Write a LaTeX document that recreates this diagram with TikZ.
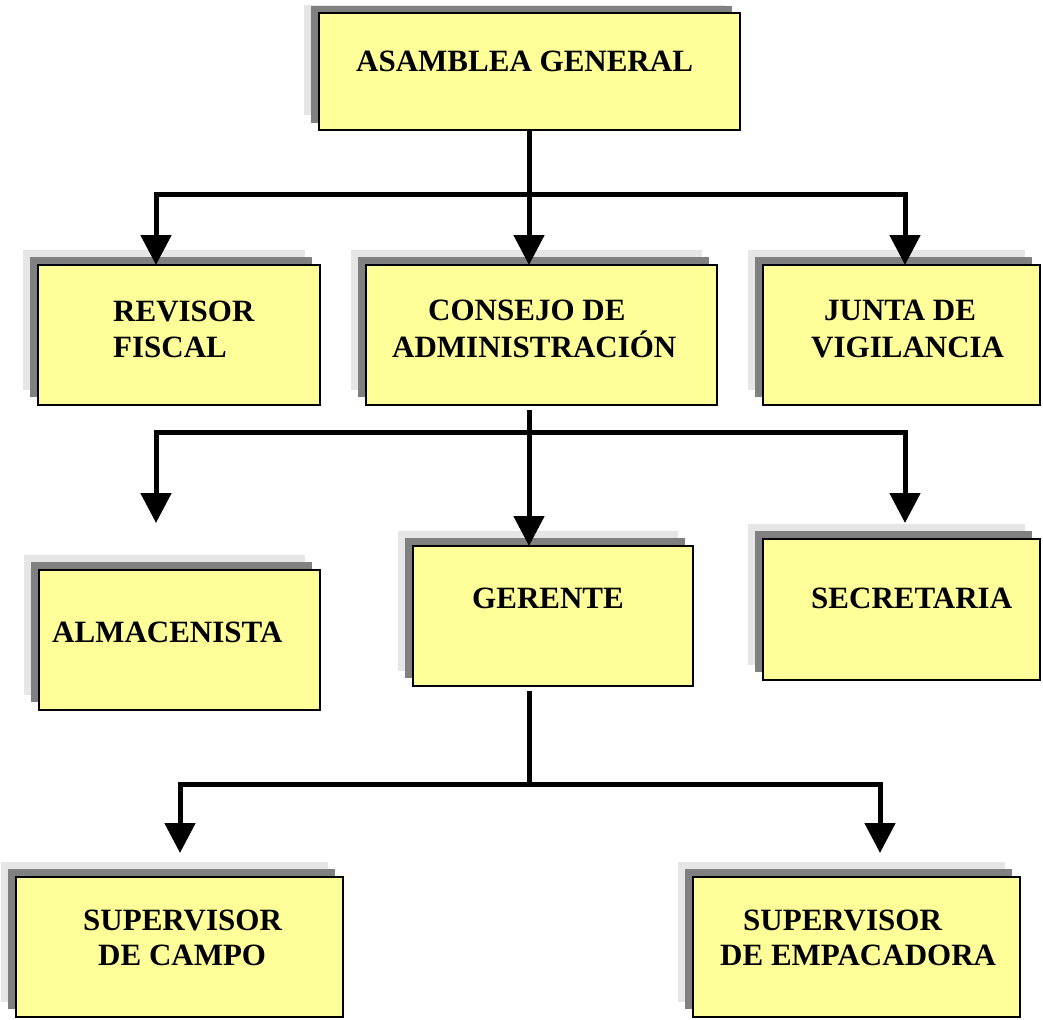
\documentclass[tikz,border=0pt]{standalone}
\usepackage{fontspec}
\setmainfont{Liberation Serif}
\usetikzlibrary{arrows.meta}
\definecolor{boxyellow}{HTML}{FFFF99}
\definecolor{shdark}{HTML}{808080}
\definecolor{shlight}{HTML}{E6E6E6}
\newcommand\orgbox[5]{%
  \fill[shlight] (#2-15,#3-15) rectangle (#4-15,#5-15);
  \fill[shdark] (#2-8,#3-8) rectangle (#4-8,#5-8);
  \node[obox, minimum width={#4-#2}, minimum height={#5-#3}] (#1) at ({(#2+#4)/2},{(#3+#5)/2}) {};
}
\begin{document}
\begin{tikzpicture}[x=1pt,y=-1pt,
  obox/.style={draw=black, line width=1.8pt, fill=boxyellow, inner sep=0pt, outer sep=0pt},
  lbl/.style={anchor=base west, inner sep=0pt, font=\bfseries\fontsize{31}{36}\selectfont},
  conn/.style={line width=5pt, line join=miter},
  arr/.style={conn, -{Triangle[length=30pt 0 0, width=30pt 0 0]}}]
\useasboundingbox (0,0) rectangle (1043,1019);
\fill[white] (0,0) rectangle (1043,1019);

% ASAMBLEA (shadows clipped by top)
\fill[shlight] (304,5) rectangle (725,115);
\fill[shdark] (311,6) rectangle (732,123);
\node[obox, minimum width=421, minimum height=117] (asamblea) at (529.5,71.5) {};
\node[lbl] (t-asam) at (356,72) {ASAMBLEA GENERAL};

\orgbox{revisor}{38}{265}{320}{405}
\node[lbl] (t-rev1) at (113,321) {REVISOR};
\node[lbl] (t-rev2) at (113,357) {FISCAL};

\orgbox{consejo}{366}{265}{717}{405}
\node[lbl] (t-con1) at (428,320) {CONSEJO DE};
\node[lbl] (t-con2) at (392,357) {ADMINISTRACIÓN};

\orgbox{junta}{763}{265}{1040}{405}
\node[lbl] (t-jun1) at (824,320) {JUNTA DE};
\node[lbl] (t-jun2) at (811,357) {VIGILANCIA};

\orgbox{almacen}{39}{570}{320}{710}
\node[lbl] (t-alm) at (52,642) {ALMACENISTA};

\orgbox{gerente}{413}{546}{693}{686}
\node[lbl] (t-ger) at (472,608) {GERENTE};

\orgbox{secretaria}{763}{539}{1040}{680}
\node[lbl] (t-sec) at (811,608) {SECRETARIA};

\orgbox{campo}{16}{877}{343}{1017}
\node[lbl] (t-cam1) at (83,930) {SUPERVISOR};
\node[lbl] (t-cam2) at (98,965) {DE CAMPO};

\orgbox{empaca}{693}{877}{1020}{1017}
\node[lbl] (t-emp1) at (743,930) {SUPERVISOR};
\node[lbl] (t-emp2) at (720,965) {DE EMPACADORA};

% Level 1 connectors
\coordinate (j1) at (529,194);
\draw[conn] (asamblea.south -| j1) -- (j1);
\draw[conn] (156,194) -- (905,194);
\draw[arr] (j1) -| ([xshift=-23pt]revisor.north);
\draw[arr] (j1) -- (consejo.north -| j1);
\draw[arr] (j1) -| ([xshift=3.5pt]junta.north);

% Level 2 connectors
\coordinate (j2) at (529,432);
\draw[conn] ([yshift=-5pt]consejo.south -| j2) -- (j2);
\draw[conn] (156,432) -- (905,432);
\coordinate (a-alm) at (156,523);
\coordinate (a-sec) at (905,523);
\draw[arr] (j2) -| (a-alm);
\draw[arr] (j2) -- (gerente.north -| j2);
\draw[arr] (j2) -| (a-sec);

% Level 3 connectors
\coordinate (j3) at (529,784);
\draw[conn] ([yshift=-5pt]gerente.south -| j3) -- (j3);
\draw[conn] (180,784) -- (880,784);
\coordinate (a-cam) at (180,853);
\coordinate (a-emp) at (880,853);
\draw[arr] (j3) -| (a-cam);
\draw[arr] (j3) -| (a-emp);
\end{tikzpicture}
\end{document}
